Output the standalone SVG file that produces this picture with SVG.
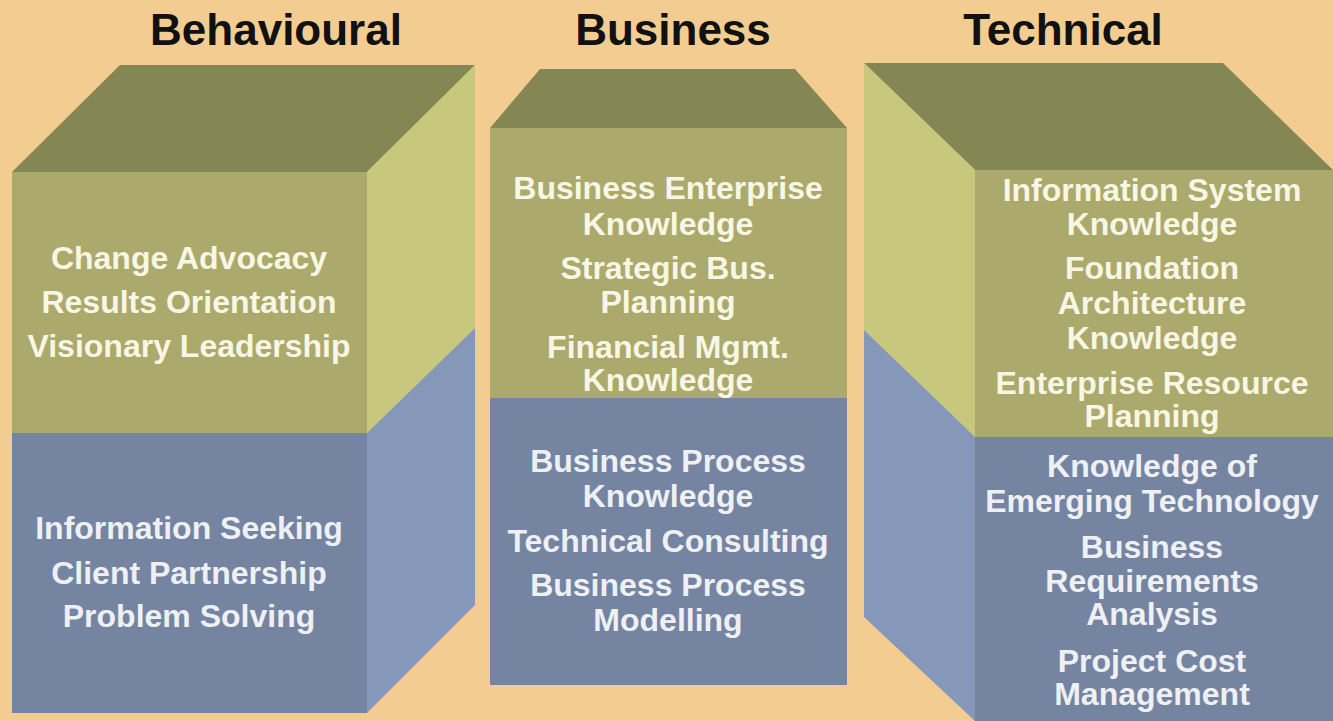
<svg xmlns="http://www.w3.org/2000/svg" width="1333" height="721" viewBox="0 0 1333 721">
<style>
.title{font-family:"Liberation Sans",Arial,sans-serif;font-weight:bold;font-size:44px;fill:#111111;text-anchor:middle}
.t{font-family:"Liberation Sans",Arial,sans-serif;font-weight:bold;font-size:32px;text-anchor:middle}
.tg{fill:#F8F6E4}
.tb{fill:#EEF0F4}
.top{fill:#848654}
.fg{fill:#ABAA6C}
.sg{fill:#C7C87E}
.fb{fill:#7585A1}
.sb{fill:#8598BA}
</style>
<rect width="1333" height="721" fill="#F2CC90"/>
<g id="titles">
<text class="title" x="276" y="45">Behavioural</text>
<text class="title" x="673" y="45">Business</text>
<text class="title" x="1063" y="45">Technical</text>
</g>
<g id="connectors"></g>
<g id="behavioural">
<polygon class="top" points="12,172 120,65 475,65 367,172"/>
<polygon class="sg" points="367,172 475,65 475,328 367,433"/>
<polygon class="sb" points="367,433 475,328 475,605 367,713"/>
<rect class="fg" x="12" y="172" width="355" height="261"/>
<rect class="fb" x="12" y="433" width="355" height="280"/>
<text class="t tg" x="189" y="269">Change Advocacy</text>
<text class="t tg" x="189" y="313">Results Orientation</text>
<text class="t tg" x="189" y="357">Visionary Leadership</text>
<text class="t tb" x="189" y="539">Information Seeking</text>
<text class="t tb" x="189" y="584">Client Partnership</text>
<text class="t tb" x="189" y="627">Problem Solving</text>
</g>
<g id="business">
<polygon class="top" points="490,128 540,69 795,69 847,128"/>
<rect class="fg" x="490" y="128" width="357" height="270"/>
<rect class="fb" x="490" y="398" width="357" height="287"/>
<text class="t tg" x="668" y="199">Business Enterprise</text>
<text class="t tg" x="668" y="235">Knowledge</text>
<text class="t tg" x="668" y="279">Strategic Bus.</text>
<text class="t tg" x="668" y="313">Planning</text>
<text class="t tg" x="668" y="358">Financial Mgmt.</text>
<text class="t tg" x="668" y="391">Knowledge</text>
<text class="t tb" x="668" y="472">Business Process</text>
<text class="t tb" x="668" y="507">Knowledge</text>
<text class="t tb" x="668" y="552">Technical Consulting</text>
<text class="t tb" x="668" y="596">Business Process</text>
<text class="t tb" x="668" y="631">Modelling</text>
</g>
<g id="technical">
<polygon class="top" points="864,63 1223,63 1333,170 975,170"/>
<polygon class="sg" points="864,63 975,170 975,437 864,330"/>
<polygon class="sb" points="864,330 975,437 975,721 864,617"/>
<rect class="fg" x="975" y="170" width="358" height="267"/>
<rect class="fb" x="975" y="437" width="358" height="284"/>
<text class="t tg" x="1152" y="201">Information System</text>
<text class="t tg" x="1152" y="235">Knowledge</text>
<text class="t tg" x="1152" y="279">Foundation</text>
<text class="t tg" x="1152" y="314">Architecture</text>
<text class="t tg" x="1152" y="349">Knowledge</text>
<text class="t tg" x="1152" y="394">Enterprise Resource</text>
<text class="t tg" x="1152" y="427">Planning</text>
<text class="t tb" x="1152" y="477">Knowledge of</text>
<text class="t tb" x="1152" y="512">Emerging Technology</text>
<text class="t tb" x="1152" y="558">Business</text>
<text class="t tb" x="1152" y="592">Requirements</text>
<text class="t tb" x="1152" y="625">Analysis</text>
<text class="t tb" x="1152" y="672">Project Cost</text>
<text class="t tb" x="1152" y="705">Management</text>
</g>
</svg>
